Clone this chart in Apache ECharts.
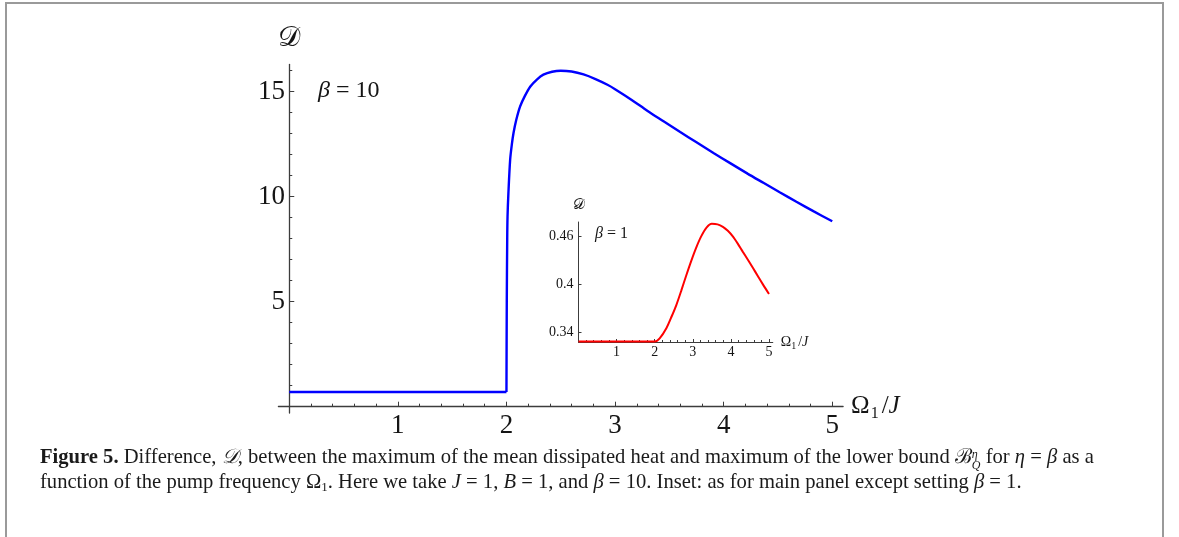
<!DOCTYPE html>
<html>
<head>
<meta charset="utf-8">
<script src="https://cdn.jsdelivr.net/npm/echarts@6/dist/echarts.min.js"></script>
<style>
html, body { margin: 0; padding: 0; background: #fff; }
#wrap { position: relative; width: 1179px; height: 537px; overflow: hidden; }
#chart { position: absolute; left: 0; top: 0; width: 1179px; height: 537px; }
#frame { position: absolute; left: 5px; top: 2px; width: 1155px; height: 700px; border: 2px solid #9a9a9a; }
.cap { position: absolute; left: 40px; font-family: "Liberation Serif", serif; font-size: 20.6px; line-height: 24px; color: #1a1a1a; white-space: nowrap; }
.cap sub { font-size: 13px; vertical-align: -3px; line-height: 0; }
.ss { display: inline-block; vertical-align: -6px; line-height: 11px; font-size: 12px; text-align: left; }
</style>
</head>
<body>
<div id="wrap">
  <div id="chart"></div>
  <div id="frame"></div>
  <div class="cap" style="top:444px"><b>Figure 5.</b> Difference, <i>𝒟</i>, between the maximum of the mean dissipated heat and maximum of the lower bound ℬ<span class="ss"><i>η</i><br><i>Q</i></span> for <i>η</i> = <i>β</i> as a</div>
  <div class="cap" style="top:469px">function of the pump frequency Ω<sub>1</sub>. Here we take <i>J</i> = 1, <i>B</i> = 1, and <i>β</i> = 10. Inset: as for main panel except setting <i>β</i> = 1.</div>
</div>
<script>
// main panel, beta = 10
const mainOmega = [0, 2, 2.003, 2.007, 2.01, 2.018, 2.034, 2.05, 2.065, 2.09, 2.126, 2.17, 2.22, 2.28, 2.34, 2.42, 2.5, 2.6, 2.71, 2.82, 2.93, 3.0, 3.15, 3.3, 3.45, 3.6, 3.75, 3.91, 4.06, 4.22, 4.37, 4.52, 4.67, 4.83, 5.0];
const mainD = [0.7, 0.7, 5.0, 8.0, 9.06, 10.17, 11.76, 12.5, 13.03, 13.65, 14.3, 14.8, 15.25, 15.58, 15.81, 15.95, 16.0, 15.96, 15.82, 15.6, 15.33, 15.12, 14.62, 14.08, 13.58, 13.08, 12.59, 12.07, 11.6, 11.1, 10.65, 10.2, 9.76, 9.3, 8.83];

// inset, beta = 1
const insetOmega = [0, 2.0, 2.13, 2.31, 2.45, 2.57, 2.7, 2.83, 2.96, 3.09, 3.22, 3.36, 3.5, 3.65, 3.79, 3.92, 4.05, 4.18, 4.31, 4.45, 4.58, 4.71, 4.84, 5.0];
const insetD = [0.328, 0.328, 0.332, 0.345, 0.36, 0.374, 0.392, 0.411, 0.429, 0.4455, 0.4595, 0.4705, 0.4752, 0.4745, 0.4715, 0.4665, 0.4595, 0.4505, 0.4405, 0.43, 0.42, 0.4097, 0.3995, 0.3875];

// ticks
const mainXMajor = [1, 2, 3, 4, 5];
const mainXMinor = [0.2, 0.4, 0.6, 0.8, 1.2, 1.4, 1.6, 1.8, 2.2, 2.4, 2.6, 2.8, 3.2, 3.4, 3.6, 3.8, 4.2, 4.4, 4.6, 4.8];
const mainYMajor = [5, 10, 15];
const mainYMinor = [1, 2, 3, 4, 6, 7, 8, 9, 11, 12, 13, 14, 16];
const insetXMajor = [1, 2, 3, 4, 5];
const insetXMinor = [0.2, 0.4, 0.6, 0.8, 1.2, 1.4, 1.6, 1.8, 2.2, 2.4, 2.6, 2.8, 3.2, 3.4, 3.6, 3.8, 4.2, 4.4, 4.6, 4.8];
const insetYMajor = [0.34, 0.4, 0.46];
const insetYLabels = ['0.34', '0.4', '0.46'];

const serif = '"Liberation Serif", "Times New Roman", serif';
const axisColor = '#3c3c3c';
const textColor = '#151515';

function pairs(xs, ys) {
  return xs.map((x, i) => [x, ys[i]]);
}

const mainData = pairs(mainOmega, mainD);

let chart = echarts.init(document.getElementById('chart'));

let option = {
  animation: false,
  textStyle: { fontFamily: serif },
  grid: [
    { left: 278.4, top: 64.4, width: 564.7, height: 348.6, containLabel: false },
    { left: 578.5, top: 222, width: 194.3, height: 120, containLabel: false }
  ],
  xAxis: [
    {
      gridIndex: 0, type: 'value', min: -0.1, max: 5.1, position: 'bottom',
      axisLine: { onZero: true, onZeroAxisIndex: 0, lineStyle: { color: axisColor, width: 1.3 } },
      axisTick: { inside: true, length: 5, customValues: mainXMajor, lineStyle: { color: axisColor } },
      axisLabel: { customValues: mainXMajor, margin: -1, fontSize: 27, fontFamily: serif, color: textColor },
      splitLine: { show: false },
      name: '{o|Ω}{s|1}{o|/}{j|J}',
      nameLocation: 'end',
      nameGap: 8,
      nameTextStyle: {
        color: textColor,
        rich: {
          o: { fontFamily: serif, fontSize: 25, lineHeight: 30, color: textColor },
          s: { fontFamily: serif, fontSize: 16, lineHeight: 14, verticalAlign: 'bottom', padding: [0, 3, 0, 1], color: textColor },
          j: { fontFamily: serif, fontStyle: 'italic', fontSize: 25, lineHeight: 30, color: textColor }
        }
      }
    },
    {
      gridIndex: 0, type: 'value', min: -0.1, max: 5.1, position: 'bottom',
      axisLine: { show: false, onZero: true, onZeroAxisIndex: 0 },
      axisTick: { inside: true, length: 3, customValues: mainXMinor, lineStyle: { color: axisColor } },
      axisLabel: { show: false },
      splitLine: { show: false }
    },
    {
      gridIndex: 1, type: 'value', min: 0, max: 5.1, position: 'bottom',
      axisLine: { onZero: false, lineStyle: { color: axisColor, width: 1 } },
      axisTick: { inside: true, length: 3, customValues: insetXMajor, lineStyle: { color: axisColor } },
      axisLabel: { customValues: insetXMajor, margin: 3, fontSize: 14, fontFamily: serif, color: textColor },
      splitLine: { show: false },
      name: '{o|Ω}{s|1}{o|/}{j|J}',
      nameLocation: 'end',
      nameGap: 8,
      nameTextStyle: {
        color: textColor,
        rich: {
          o: { fontFamily: serif, fontSize: 14, lineHeight: 18, color: textColor },
          s: { fontFamily: serif, fontSize: 10, lineHeight: 9, verticalAlign: 'bottom', padding: [0, 2, 0, 0], color: textColor },
          j: { fontFamily: serif, fontStyle: 'italic', fontSize: 14, lineHeight: 18, color: textColor }
        }
      }
    },
    {
      gridIndex: 1, type: 'value', min: 0, max: 5.1, position: 'bottom',
      axisLine: { show: false, onZero: false },
      axisTick: { inside: true, length: 2, customValues: insetXMinor, lineStyle: { color: axisColor } },
      axisLabel: { show: false },
      splitLine: { show: false }
    }
  ],
  yAxis: [
    {
      gridIndex: 0, type: 'value', min: -0.3, max: 16.3, position: 'left',
      axisLine: { show: true, onZero: true, onZeroAxisIndex: 0, lineStyle: { color: axisColor, width: 1.3 } },
      axisTick: { show: true, inside: true, length: 5, customValues: mainYMajor, lineStyle: { color: axisColor } },
      axisLabel: { customValues: mainYMajor, margin: -6.5, fontSize: 27, fontFamily: serif, color: textColor },
      splitLine: { show: false },
      name: '𝒟',
      nameLocation: 'end',
      nameGap: 12,
      nameTextStyle: { fontFamily: serif, fontSize: 28, color: textColor }
    },
    {
      gridIndex: 0, type: 'value', min: -0.3, max: 16.3, position: 'left',
      axisLine: { show: false, onZero: true, onZeroAxisIndex: 0 },
      axisTick: { show: true, inside: true, length: 3, customValues: mainYMinor, lineStyle: { color: axisColor } },
      axisLabel: { show: false },
      splitLine: { show: false }
    },
    {
      gridIndex: 1, type: 'value', min: 0.3275, max: 0.4775, position: 'left',
      axisLine: { show: true, onZero: false, lineStyle: { color: axisColor, width: 1 } },
      axisTick: { show: true, inside: true, length: 3, customValues: insetYMajor, lineStyle: { color: axisColor } },
      axisLabel: {
        customValues: insetYMajor, margin: 5, fontSize: 14, fontFamily: serif, color: textColor,
        formatter: v => insetYLabels[insetYMajor.indexOf(v)] || String(v)
      },
      splitLine: { show: false },
      name: '𝒟',
      nameLocation: 'end',
      nameGap: 9,
      nameTextStyle: { fontFamily: serif, fontSize: 15, color: textColor }
    }
  ],
  graphic: [
    {
      type: 'text', x: 318, y: 91,
      style: {
        text: '{b|β}{n| = 10}', verticalAlign: 'middle', fill: textColor,
        rich: {
          b: { fontFamily: serif, fontStyle: 'italic', fontSize: 24 },
          n: { fontFamily: serif, fontSize: 24 }
        }
      }
    },
    {
      type: 'text', x: 595, y: 234,
      style: {
        text: '{b|β}{n| = 1}', verticalAlign: 'middle', fill: textColor,
        rich: {
          b: { fontFamily: serif, fontStyle: 'italic', fontSize: 16 },
          n: { fontFamily: serif, fontSize: 16 }
        }
      }
    }
  ],
  series: [
    {
      // flat part below the threshold
      name: 'beta10', type: 'line', xAxisIndex: 0, yAxisIndex: 0,
      data: mainData.slice(0, 2),
      showSymbol: false, clip: false,
      lineStyle: { color: '#0000ff', width: 2.4 }
    },
    {
      name: 'beta10', type: 'line', xAxisIndex: 0, yAxisIndex: 0,
      data: mainData.slice(1),
      showSymbol: false, clip: false, smooth: 0.3,
      lineStyle: { color: '#0000ff', width: 2.4 }
    },
    {
      name: 'beta1', type: 'line', xAxisIndex: 2, yAxisIndex: 2,
      data: pairs(insetOmega, insetD),
      showSymbol: false, clip: false, smooth: 0.3,
      lineStyle: { color: '#ff0000', width: 2 }
    }
  ]
};

chart.setOption(option);
</script>
</body>
</html>
